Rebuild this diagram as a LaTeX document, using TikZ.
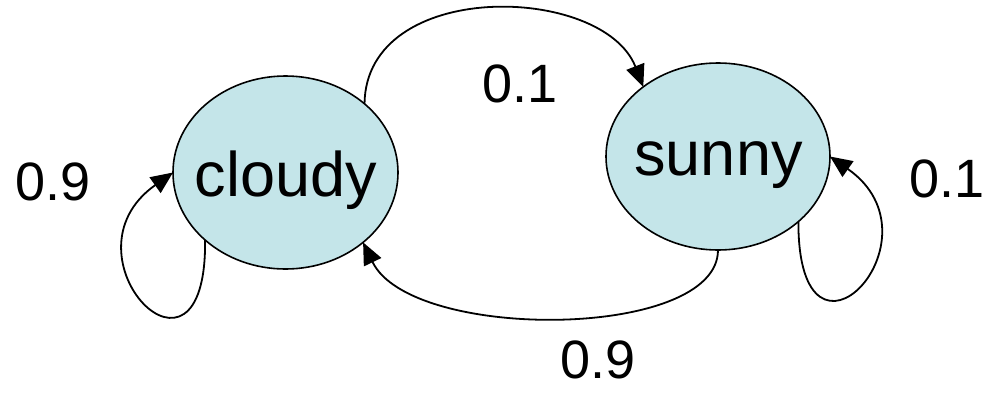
\documentclass[tikz,border=0pt]{standalone}
\usepackage{fontspec}
\setmainfont{Liberation Sans}
\usetikzlibrary{shapes.geometric,arrows.meta}
\definecolor{statefill}{RGB}{196,229,233}
\tikzset{
  state/.style={ellipse, draw=black, line width=1.6pt, fill=statefill,
    minimum width=225pt, minimum height=193pt, inner sep=0pt, outer sep=0pt},
  statetext/.style={anchor=base, inner sep=0pt, font=\fontsize{63}{75}\selectfont},
  prob/.style={inner sep=0pt, font=\fontsize{54}{64}\selectfont},
  trans/.style={line width=1.8pt, -{Triangle[length=22pt,width=19pt]}}
}
\begin{document}
\begin{tikzpicture}[x=1pt,y=-1pt]
\useasboundingbox (0,0) rectangle (986,394);
\node[state] (c) at (285.5,172.5) {};
\node[state, minimum width=224pt, minimum height=187pt] (s) at (718,156.5) {};
\node[statetext] (ct) at (286,196) {cloudy};
\node[statetext] (st) at (718.5,175) {sunny};
\node[prob] (l1) at (53,182) {0.9};
\node[prob] (l2) at (520,83.5) {0.1};
\node[prob] (l3) at (947,179) {0.1};
\node[prob] (l4) at (598,360) {0.9};
% cloudy -> sunny
\draw[trans] (c.41) .. controls (366,-22) and (603,-16) .. (s.137);
% sunny -> cloudy
\draw[trans] (s.-90) .. controls (718,340) and (411,342) .. (c.-42);
% cloudy self loop
\draw[trans] (c.220) .. controls (207,412) and (55,256) .. (c.180);
% sunny self loop
\draw[trans] (s.-39) .. controls (798,396) and (948,239) .. (s.0);
\end{tikzpicture}
\end{document}
